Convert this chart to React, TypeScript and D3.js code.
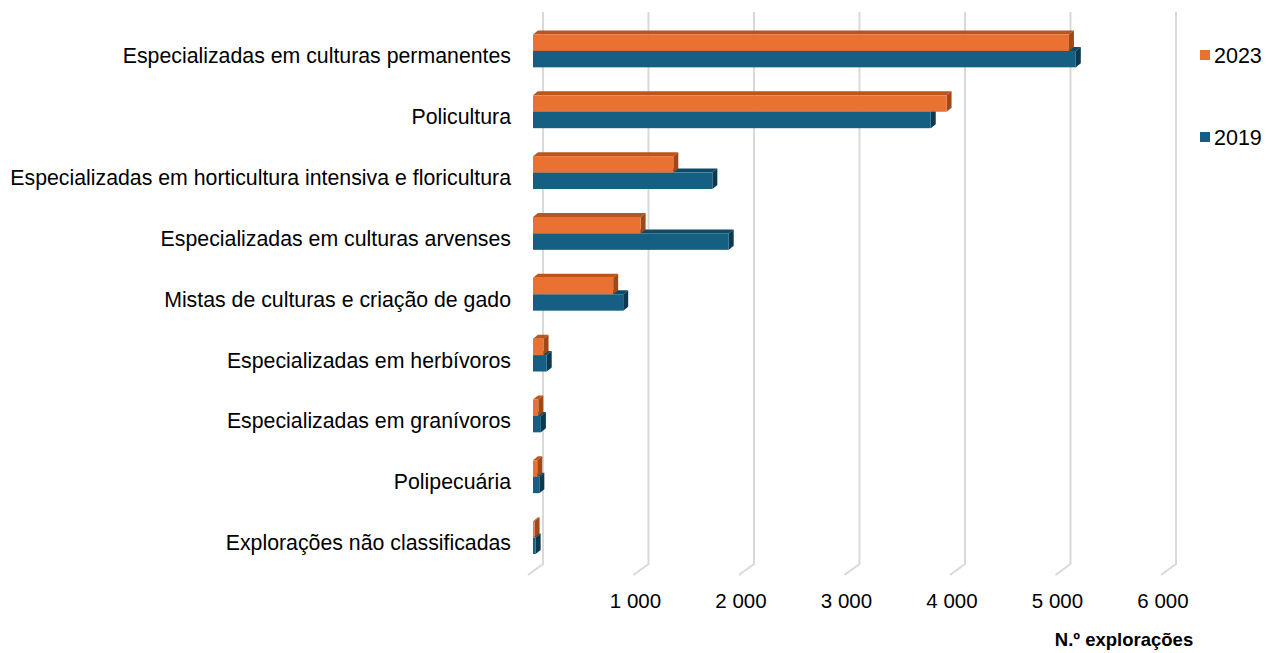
import React, { useRef, useEffect } from 'react'
import * as d3 from 'd3'

const categories = [
  'Especializadas em culturas permanentes',
  'Policultura',
  'Especializadas em horticultura intensiva e floricultura',
  'Especializadas em culturas arvenses',
  'Mistas de culturas e criação de gado',
  'Especializadas em herbívoros',
  'Especializadas em granívoros',
  'Polipecuária',
  'Explorações não classificadas',
]

const series = ['2023', '2019']
const values2023 = [5080, 3920, 1330, 1020, 760, 100, 50, 40, 15]
const values2019 = [5145, 3770, 1700, 1855, 855, 130, 75, 60, 25]
const ticks = [1000, 2000, 3000, 4000, 5000, 6000]

const W = 1266
const H = 653

// front / top / side face colours per series
const faceColors: Record<string, [string, string, string]> = {
  '2023': ['#E97132', '#B9551F', '#A04818'],
  '2019': ['#156082', '#0F4A66', '#0B3A50'],
}

const fmt = (v: number) => d3.format(',')(v).replace(/,/g, ' ')

const App: React.FC = () => {
  const ref = useRef<SVGSVGElement>(null)

  useEffect(() => {
    if (!ref.current) return
    const svg = d3.select(ref.current)
    svg.selectAll('*').remove()

    const x = d3.scaleLinear().domain([0, 6000]).range([533, 1166])
    const y = d3.scaleBand<string>()
      .domain(categories)
      .range([20.5, 568])
      .paddingInner(0.46)
      .paddingOuter(0.23)
    const ySub = d3.scaleBand<string>().domain(series).range([0, y.bandwidth()])

    // 3d offsets
    const wallDx = 10
    const floorY = 564
    const floorY2 = 575
    const dx = 5
    const dy = 4

    // gridlines (back wall + floor)
    const grid = svg.append('g')
    ;[0, ...ticks].forEach(t => {
      const bx = x(t) + wallDx
      grid.append('path')
        .attr('d', `M${bx},12 L${bx},${floorY} L${x(t) - 5},${floorY2}`)
        .attr('fill', 'none')
        .attr('stroke', '#D9D9D9')
        .attr('stroke-width', 2)
    })

    // bars
    const data = categories.map((c, i) => ({ c, v: { '2023': values2023[i], '2019': values2019[i] } as Record<string, number> }))
    const bars = svg.append('g')
    data.forEach(d => {
      ;['2019', '2023'].forEach(s => {
        const x0 = x(0)
        const x1 = x(d.v[s])
        const y0 = (y(d.c) || 0) + (ySub(s) || 0)
        const h = ySub.bandwidth()
        const [front, top, side] = faceColors[s]
        bars.append('path')
          .attr('d', `M${x0},${y0} L${x0 + dx},${y0 - dy} L${x1 + dx},${y0 - dy} L${x1},${y0} Z`)
          .attr('fill', top)
        bars.append('path')
          .attr('d', `M${x1},${y0} L${x1 + dx},${y0 - dy} L${x1 + dx},${y0 + h - dy} L${x1},${y0 + h} Z`)
          .attr('fill', side)
        bars.append('rect')
          .attr('x', x0)
          .attr('y', y0)
          .attr('width', x1 - x0)
          .attr('height', h)
          .attr('fill', front)
      })
    })

    // category labels
    svg.append('g')
      .selectAll('text')
      .data(categories)
      .join('text')
      .attr('x', 511)
      .attr('y', d => (y(d) || 0) + y.bandwidth() / 2 + 5)
      .attr('dy', '0.35em')
      .attr('text-anchor', 'end')
      .style('font-family', '"Liberation Sans", Arial, sans-serif')
      .style('font-size', '21.3px')
      .style('fill', '#000')
      .text(d => d)

    // tick labels
    svg.append('g')
      .selectAll('text')
      .data(ticks)
      .join('text')
      .attr('x', d => x(d) - 3)
      .attr('y', 608)
      .attr('text-anchor', 'middle')
      .style('font-family', '"Liberation Sans", Arial, sans-serif')
      .style('font-size', '20.5px')
      .style('fill', '#000')
      .text(d => fmt(d))

    // axis title
    svg.append('text')
      .attr('x', 1124)
      .attr('y', 646)
      .attr('text-anchor', 'middle')
      .style('font-family', '"Liberation Sans", Arial, sans-serif')
      .style('font-size', '18.5px')
      .style('font-weight', 'bold')
      .style('fill', '#000')
      .text('N.º explorações')

    // legend
    const legend = svg.append('g')
    const legendY = [55, 137]
    series.forEach((s, i) => {
      legend.append('rect')
        .attr('x', 1200)
        .attr('y', legendY[i] - 5)
        .attr('width', 10)
        .attr('height', 10)
        .attr('fill', faceColors[s][0])
      legend.append('text')
        .attr('x', 1214)
        .attr('y', legendY[i])
        .attr('dy', '0.35em')
        .style('font-family', '"Liberation Sans", Arial, sans-serif')
        .style('font-size', '21.5px')
        .style('fill', '#000')
        .text(s)
    })
  }, [])

  return (
    <svg
      ref={ref}
      width={W}
      height={H}
      style={{ position: 'absolute', left: 0, top: 0, background: '#fff' }}
    />
  )
}

export default App
